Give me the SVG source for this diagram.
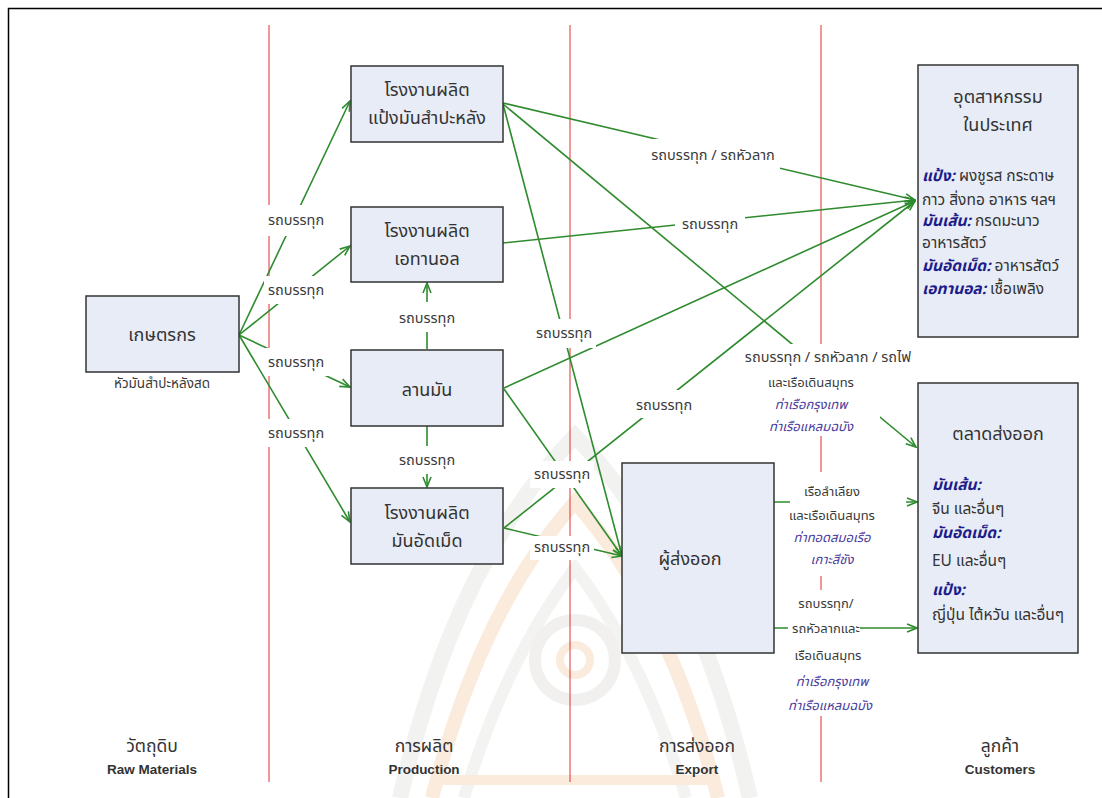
<svg xmlns="http://www.w3.org/2000/svg" width="1102" height="798" viewBox="0 0 1102 798">
  <defs>
    <style>
      text { font-family: "Noto Sans Thai", "Noto Sans", "DejaVu Sans", sans-serif; fill: #333; }
      .box { fill: #e8ecf6; stroke: #333; stroke-width: 1.5; }
      .nt { font-size: 18px; text-anchor: middle; }
      .lt { font-size: 14.5px; text-anchor: middle; fill: #3a3a3a; }
      .st { font-size: 13px; text-anchor: middle; fill: #3a3a3a; }
      .it { font-size: 15.5px; }
      .pt { font-style: italic; fill: #4a3c9c; }
      .bl { font-weight: bold; font-style: italic; fill: #1c1c8a; }
      .bg { fill: #fff; }
      .cn { stroke: #2e8b2e; stroke-width: 1.6; fill: none; marker-end: url(#ah); }
      .red { stroke: #e03030; stroke-width: 1; }
      .hd { font-size: 17.5px; text-anchor: middle; }
      .en { font-family: "Liberation Sans", Arial, sans-serif; font-size: 13.5px; font-weight: bold; text-anchor: middle; }
      .wm { fill: none; stroke-linejoin: miter; }
    </style>
    <marker id="ah" viewBox="0 0 12 10" refX="11" refY="5" markerWidth="12" markerHeight="10" markerUnits="userSpaceOnUse" orient="auto">
      <path d="M1,1 L11,5 L1,9" fill="none" stroke="#2e8b2e" stroke-width="1.6"/>
    </marker>
  </defs>

  <rect width="1102" height="798" fill="#fff"/>

  <!-- faint emblem in the background -->
  <g id="emblem" opacity="0.55">
    <path class="wm" d="M400,798 Q455,560 575,436 Q695,560 750,798" stroke="#e9e8e7" stroke-width="16"/>
    <path class="wm" d="M432,798 Q480,610 575,502 Q670,610 718,798" stroke="#f7dcc0" stroke-width="14"/>
    <path class="wm" d="M464,798 Q505,660 575,568 Q645,660 686,798" stroke="#ebeae9" stroke-width="12"/>
    <circle cx="575" cy="660" r="40" fill="none" stroke="#e8e5e2" stroke-width="12"/>
    <circle cx="575" cy="660" r="15" fill="none" stroke="#f7dcc0" stroke-width="8"/>
    <path d="M440,780 L710,780" stroke="#f7dcc0" stroke-width="10"/>
  </g>

  <!-- outer frame -->
  <path d="M8.5,798 L8.5,8.5 L1102,8.5" fill="none" stroke="#000" stroke-width="1.5"/>

  <!-- stage dividers -->
  <g id="dividers">
    <line class="red" x1="269" y1="25" x2="269" y2="782"/>
    <line class="red" x1="570" y1="25" x2="570" y2="782"/>
    <line class="red" x1="821" y1="25" x2="821" y2="782"/>
  </g>

  <!-- connectors -->
  <g id="connectors">
    <path class="cn" d="M239,335 L350,101"/>
    <path class="cn" d="M239,335 L350,246"/>
    <path class="cn" d="M239,335 L350,387"/>
    <path class="cn" d="M239,335 L350,522"/>
    <path class="cn" d="M427,349 L427,283"/>
    <path class="cn" d="M427,426 L427,487"/>
    <path class="cn" d="M503,103 L915,200"/>
    <path class="cn" d="M503,243 L915,200"/>
    <path class="cn" d="M504,388 L915,201"/>
    <path class="cn" d="M504,528 L915,201"/>
    <path class="cn" d="M503,104 L622,556"/>
    <path class="cn" d="M504,389 L622,556"/>
    <path class="cn" d="M504,528 L622,556"/>
    <path class="cn" d="M503,104 L916,447"/>
    <path class="cn" d="M774,502 L917,502"/>
    <path class="cn" d="M774,628 L917,628"/>
  </g>

  <!-- transport labels -->
  <g id="labels">
    <rect class="bg" x="264" y="205" width="64" height="31"/>
    <text class="lt" x="296" y="225">รถบรรทุก</text>
    <rect class="bg" x="264" y="276" width="64" height="28"/>
    <text class="lt" x="296" y="295">รถบรรทุก</text>
    <rect class="bg" x="264" y="348" width="64" height="28"/>
    <text class="lt" x="296" y="367">รถบรรทุก</text>
    <rect class="bg" x="264" y="419" width="64" height="28"/>
    <text class="lt" x="296" y="438">รถบรรทุก</text>
    <rect class="bg" x="395" y="302" width="64" height="30"/>
    <text class="lt" x="427" y="323">รถบรรทุก</text>
    <rect class="bg" x="395" y="446" width="64" height="28"/>
    <text class="lt" x="427" y="465">รถบรรทุก</text>

    <rect class="bg" x="646" y="139" width="134" height="30"/>
    <text class="lt" x="713" y="160">รถบรรทุก / รถหัวลาก</text>
    <rect class="bg" x="675" y="212" width="70" height="25"/>
    <text class="lt" x="710" y="229">รถบรรทุก</text>
    <rect class="bg" x="632" y="390" width="64" height="28"/>
    <text class="lt" x="664" y="410">รถบรรทุก</text>
    <rect class="bg" x="532" y="319" width="64" height="29"/>
    <text class="lt" x="564" y="338">รถบรรทุก</text>
    <rect class="bg" x="530" y="461" width="64" height="27"/>
    <text class="lt" x="562" y="479">รถบรรทุก</text>
    <rect class="bg" x="530" y="536" width="64" height="24"/>
    <text class="lt" x="562" y="552">รถบรรทุก</text>

    <rect class="bg" x="736" y="344" width="144" height="92"/>
    <text class="lt" x="828" y="362">รถบรรทุก / รถหัวลาก / รถไฟ</text>
    <text class="st" x="811" y="387">และเรือเดินสมุทร</text>
    <text class="st pt" x="811" y="409">ท่าเรือกรุงเทพ</text>
    <text class="st pt" x="811" y="431">ท่าเรือแหลมฉบัง</text>

    <rect class="bg" x="790" y="472" width="116" height="104"/>
    <text class="st" x="832" y="496">เรือลำเลียง</text>
    <text class="st" x="832" y="520">และเรือเดินสมุทร</text>
    <text class="st pt" x="832" y="542">ท่าทอดสมอเรือ</text>
    <text class="st pt" x="832" y="564">เกาะสีชัง</text>

    <rect class="bg" x="788" y="590" width="72" height="126"/>
    <text class="st" x="826" y="608">รถบรรทุก/</text>
    <text class="st" x="826" y="633">รถหัวลากและ</text>
    <text class="st" x="828" y="660">เรือเดินสมุทร</text>
    <text class="st pt" x="832" y="686">ท่าเรือกรุงเทพ</text>
    <text class="st pt" x="830" y="710">ท่าเรือแหลมฉบัง</text>
  </g>

  <!-- nodes -->
  <g id="farmer">
    <rect class="box" x="86" y="296" width="153" height="76"/>
    <text class="nt" x="162" y="341">เกษตรกร</text>
    <text class="st" x="162" y="388" style="font-size:13.5px">หัวมันสำปะหลังสด</text>
  </g>
  <g id="starch-factory">
    <rect class="box" x="351" y="66" width="152" height="76"/>
    <text class="nt" x="427" y="96">โรงงานผลิต</text>
    <text class="nt" x="427" y="124">แป้งมันสำปะหลัง</text>
  </g>
  <g id="ethanol-factory">
    <rect class="box" x="351" y="207" width="152" height="75"/>
    <text class="nt" x="427" y="237">โรงงานผลิต</text>
    <text class="nt" x="427" y="265">เอทานอล</text>
  </g>
  <g id="drying-yard">
    <rect class="box" x="351" y="350" width="152" height="76"/>
    <text class="nt" x="427" y="396">ลานมัน</text>
  </g>
  <g id="pellet-factory">
    <rect class="box" x="351" y="488" width="152" height="76"/>
    <text class="nt" x="427" y="519">โรงงานผลิต</text>
    <text class="nt" x="427" y="547">มันอัดเม็ด</text>
  </g>
  <g id="exporter">
    <rect class="box" x="622" y="463" width="152" height="190"/>
    <text class="nt" x="690" y="565">ผู้ส่งออก</text>
  </g>
  <g id="domestic-industry">
    <rect class="box" x="918" y="65" width="160" height="272"/>
    <text class="nt" x="998" y="103">อุตสาหกรรม</text>
    <text class="nt" x="998" y="131">ในประเทศ</text>
    <text class="it" x="922" y="181"><tspan class="bl">แป้ง:</tspan> ผงชูรส กระดาษ</text>
    <text class="it" x="922" y="205">กาว สิ่งทอ อาหาร ฯลฯ</text>
    <text class="it" x="922" y="226"><tspan class="bl">มันเส้น:</tspan> กรดมะนาว</text>
    <text class="it" x="922" y="248">อาหารสัตว์</text>
    <text class="it" x="922" y="271"><tspan class="bl">มันอัดเม็ด:</tspan> อาหารสัตว์</text>
    <text class="it" x="922" y="294"><tspan class="bl">เอทานอล:</tspan> เชื้อเพลิง</text>
  </g>
  <g id="export-market">
    <rect class="box" x="918" y="383" width="160" height="270"/>
    <text class="nt" x="998" y="440">ตลาดส่งออก</text>
    <text class="it bl" x="932" y="490">มันเส้น:</text>
    <text class="it" x="932" y="514">จีน และอื่นๆ</text>
    <text class="it bl" x="932" y="538">มันอัดเม็ด:</text>
    <text class="it" x="932" y="566">EU และอื่นๆ</text>
    <text class="it bl" x="932" y="595">แป้ง:</text>
    <text class="it" x="932" y="620">ญี่ปุ่น ไต้หวัน และอื่นๆ</text>
  </g>

  <!-- stage headings -->
  <g id="headings">
    <text class="hd" x="152" y="752">วัตถุดิบ</text>
    <text class="en" x="152" y="774">Raw Materials</text>
    <text class="hd" x="424" y="752">การผลิต</text>
    <text class="en" x="424" y="774">Production</text>
    <text class="hd" x="697" y="752">การส่งออก</text>
    <text class="en" x="697" y="774">Export</text>
    <text class="hd" x="1000" y="752">ลูกค้า</text>
    <text class="en" x="1000" y="774">Customers</text>
  </g>
</svg>
